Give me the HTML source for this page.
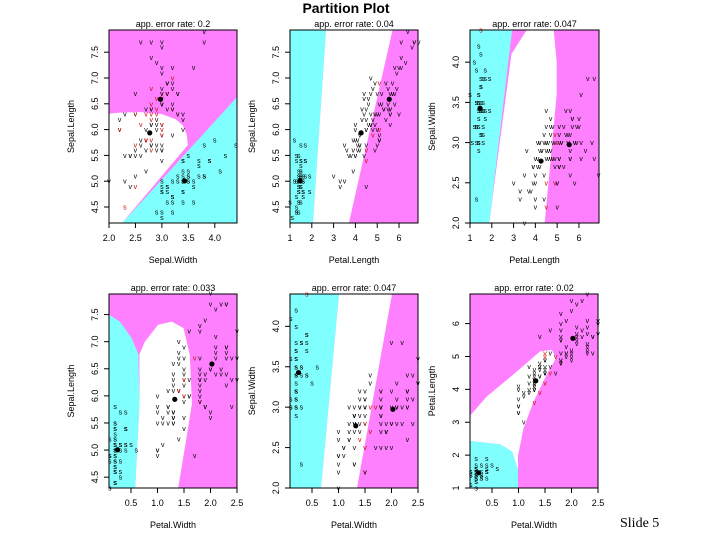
<!DOCTYPE html>
<html><head><meta charset="utf-8">
<style>
html,body{margin:0;padding:0;background:#fff;width:720px;height:540px;overflow:hidden}
svg{display:block;font-family:"Liberation Sans",sans-serif}
</style></head>
<body>
<svg id="chart" width="720" height="540" viewBox="0 0 720 540" xmlns="http://www.w3.org/2000/svg">
<text x="346" y="13" font-size="14" font-weight="bold" text-anchor="middle">Partition Plot</text>
<text x="620" y="527" font-size="14" font-family="Liberation Serif, serif">Slide 5</text>
</svg>
<script>
// iris data
const species = [].concat(Array(50).fill('s'), Array(50).fill('c'), Array(50).fill('g'));
const sepalLength = [5.1,4.9,4.7,4.6,5.0,5.4,4.6,5.0,4.4,4.9,5.4,4.8,4.8,4.3,5.8,5.7,5.4,5.1,5.7,5.1,5.4,5.1,4.6,5.1,4.8,5.0,5.0,5.2,5.2,4.7,4.8,5.4,5.2,5.5,4.9,5.0,5.5,4.9,4.4,5.1,5.0,4.5,4.4,5.0,5.1,4.8,5.1,4.6,5.3,5.0,
7.0,6.4,6.9,5.5,6.5,5.7,6.3,4.9,6.6,5.2,5.0,5.9,6.0,6.1,5.6,6.7,5.6,5.8,6.2,5.6,5.9,6.1,6.3,6.1,6.4,6.6,6.8,6.7,6.0,5.7,5.5,5.5,5.8,6.0,5.4,6.0,6.7,6.3,5.6,5.5,5.5,6.1,5.8,5.0,5.6,5.7,5.7,6.2,5.1,5.7,
6.3,5.8,7.1,6.3,6.5,7.6,4.9,7.3,6.7,7.2,6.5,6.4,6.8,5.7,5.8,6.4,6.5,7.7,7.7,6.0,6.9,5.6,7.7,6.3,6.7,7.2,6.2,6.1,6.4,7.2,7.4,7.9,6.4,6.3,6.1,7.7,6.3,6.4,6.0,6.9,6.7,6.9,5.8,6.8,6.7,6.7,6.3,6.5,6.2,5.9];
const sepalWidth = [3.5,3.0,3.2,3.1,3.6,3.9,3.4,3.4,2.9,3.1,3.7,3.4,3.0,3.0,4.0,4.4,3.9,3.5,3.8,3.8,3.4,3.7,3.6,3.3,3.4,3.0,3.4,3.5,3.4,3.2,3.1,3.4,4.1,4.2,3.1,3.2,3.5,3.6,3.0,3.4,3.5,2.3,3.2,3.5,3.8,3.0,3.8,3.2,3.7,3.3,
3.2,3.2,3.1,2.3,2.8,2.8,3.3,2.4,2.9,2.7,2.0,3.0,2.2,2.9,2.9,3.1,3.0,2.7,2.2,2.5,3.2,2.8,2.5,2.8,2.9,3.0,2.8,3.0,2.9,2.6,2.4,2.4,2.7,2.7,3.0,3.4,3.1,2.3,3.0,2.5,2.6,3.0,2.6,2.3,2.7,3.0,2.9,2.9,2.5,2.8,
3.3,2.7,3.0,2.9,3.0,3.0,2.5,2.9,2.5,3.6,3.2,2.7,3.0,2.5,2.8,3.2,3.0,3.8,2.6,2.2,3.2,2.8,2.8,2.7,3.3,3.2,2.8,3.0,2.8,3.0,2.8,3.8,2.8,2.8,2.6,3.0,3.4,3.1,3.0,3.1,3.1,3.1,2.7,3.2,3.3,3.0,2.5,3.0,3.4,3.0];
const petalLength = [1.4,1.4,1.3,1.5,1.4,1.7,1.4,1.5,1.4,1.5,1.5,1.6,1.4,1.1,1.2,1.5,1.3,1.4,1.7,1.5,1.7,1.5,1.0,1.7,1.9,1.6,1.6,1.5,1.4,1.6,1.6,1.5,1.5,1.4,1.5,1.2,1.3,1.4,1.3,1.5,1.3,1.3,1.3,1.6,1.9,1.4,1.6,1.4,1.5,1.4,
4.7,4.5,4.9,4.0,4.6,4.5,4.7,3.3,4.6,3.9,3.5,4.2,4.0,4.7,3.6,4.4,4.5,4.1,4.5,3.9,4.8,4.0,4.9,4.7,4.3,4.4,4.8,5.0,4.5,3.5,3.8,3.7,3.9,5.1,4.5,4.5,4.7,4.4,4.1,4.0,4.4,4.6,4.0,3.3,4.2,4.2,4.2,4.3,3.0,4.1,
6.0,5.1,5.9,5.6,5.8,6.6,4.5,6.3,5.8,6.1,5.1,5.3,5.5,5.0,5.1,5.3,5.5,6.7,6.9,5.0,5.7,4.9,6.7,4.9,5.7,6.0,4.8,4.9,5.6,5.8,6.1,6.4,5.6,5.1,5.6,6.1,5.6,5.5,4.8,5.4,5.6,5.1,5.1,5.9,5.7,5.2,5.0,5.2,5.4,5.1];
const petalWidth = [0.2,0.2,0.2,0.2,0.2,0.4,0.3,0.2,0.2,0.1,0.2,0.2,0.1,0.1,0.2,0.4,0.4,0.3,0.3,0.3,0.2,0.4,0.2,0.5,0.2,0.2,0.4,0.2,0.2,0.2,0.2,0.4,0.1,0.2,0.2,0.2,0.2,0.1,0.2,0.2,0.3,0.3,0.2,0.6,0.4,0.3,0.2,0.2,0.2,0.2,
1.4,1.5,1.5,1.3,1.5,1.3,1.6,1.0,1.3,1.4,1.0,1.5,1.0,1.4,1.3,1.4,1.5,1.0,1.5,1.1,1.8,1.3,1.5,1.2,1.3,1.4,1.4,1.7,1.5,1.0,1.1,1.0,1.2,1.6,1.5,1.6,1.5,1.3,1.3,1.3,1.2,1.4,1.2,1.0,1.3,1.2,1.3,1.3,1.1,1.3,
2.5,1.9,2.1,1.8,2.2,2.1,1.7,1.8,1.8,2.5,2.0,1.9,2.1,2.0,2.4,2.3,1.8,2.2,2.3,1.5,2.3,2.0,2.0,1.8,2.1,1.8,1.8,1.8,2.1,1.6,1.9,2.0,2.2,1.5,1.4,2.3,2.4,1.8,1.8,2.1,2.4,2.3,1.9,2.3,2.5,2.3,1.9,2.0,2.3,1.8];
const vars = {SL: sepalLength, SW: sepalWidth, PL: petalLength, PW: petalWidth};
const varNames = {SL: 'Sepal.Length', SW: 'Sepal.Width', PL: 'Petal.Length', PW: 'Petal.Width'};
const errorRates = ['0.2','0.04','0.047','0.033','0.047','0.02'];

// panel layout: x var, y var
const panelVars = [['SW','SL'],['PL','SL'],['PL','SW'],['PW','SL'],['PW','SW'],['PW','PL']];
const xTicks = [[2.0,2.5,3.0,3.5,4.0],[1,2,3,4,5,6],[1,2,3,4,5,6],[0.5,1.0,1.5,2.0,2.5],[0.5,1.0,1.5,2.0,2.5],[0.5,1.0,1.5,2.0,2.5]];
const yTicks = [[4.5,5.0,5.5,6.0,6.5,7.0,7.5],[4.5,5.0,5.5,6.0,6.5,7.0,7.5],[2.0,2.5,3.0,3.5,4.0],[4.5,5.0,5.5,6.0,6.5,7.0,7.5],[2.0,2.5,3.0,3.5,4.0],[1,2,3,4,5,6]];
const xRanges = [[2.0,4.42],[1,6.87],[1,6.92],[0.085,2.5],[0.085,2.5],[0.085,2.5]];
const yRanges = [[4.19,7.93],[4.19,7.93],[2.0,4.4],[4.3,7.88],[2.0,4.4],[1,6.9]];
const boxes = [[109,30,128,193],[290,30,128,193],[470,30,129,193],[109,294,128,194],[290,294,128,194],[470,294,128,194]];

// decision regions (data coords), background = virginica (pink)
const cyanRegions = [
 [[2.25,4.19],[4.42,6.63],[4.42,4.19]],
 [[1,4.19],[2.05,4.19],[2.65,7.93],[1,7.93]],
 [[1,2],[1.88,2],[2.93,4.4],[1,4.4]],
 [[0.085,4.3],[0.085,7.5],[0.29,7.37],[0.51,7.07],[0.64,6.77],[0.66,5.85],[0.58,4.3]],
 [[0.085,2],[0.67,2],[1.01,4.4],[0.085,4.4]],
 [[0.085,1],[0.085,2.43],[0.65,2.33],[0.88,2.11],[0.99,1.56],[0.99,1]]
];
const whiteRegions = [
 [[2.0,4.19],[2.25,4.19],[3.49,5.70],[3.47,5.9],[3.4,6.08],[3.26,6.2],[3.0,6.3],[2.6,6.34],[2.2,6.33],[2.0,6.31]],
 [[2.05,4.19],[3.7,4.19],[5.7,7.93],[2.65,7.93]],
 [[1.88,2],[2.9,4.1],[3.6,4.4],[4.84,4.4],[4.98,4.0],[4.98,3.6],[4.43,2]],
 [[0.58,4.3],[1.39,4.3],[1.55,5.24],[1.65,5.85],[1.61,6.76],[1.49,7.25],[1.27,7.37],[1.01,7.31],[0.76,7.0],[0.66,6.77],[0.66,5.85]],
 [[0.67,2],[1.35,2],[2.01,4.4],[1.01,4.4]],
 [[0.085,2.43],[0.085,3.2],[0.4,3.78],[0.9,4.45],[1.41,5.16],[1.63,5.2],[1.71,4.95],[1.53,4.44],[1.28,3.61],[1.09,2.79],[0.99,1.97],[0.99,1.56],[0.88,2.11],[0.65,2.33]]
];

const NS = 'http://www.w3.org/2000/svg';
const svg = document.getElementById('chart');
function mk(tag, attrs, parent){ const e=document.createElementNS(NS,tag); for(const k in attrs) e.setAttribute(k,attrs[k]); (parent||svg).appendChild(e); return e; }
function inPoly(pt, poly){ let c=false; for(let i=0,j=poly.length-1;i<poly.length;j=i++){ const [xi,yi]=poly[i],[xj,yj]=poly[j]; if(((yi>pt[1])!==(yj>pt[1])) && (pt[0] < (xj-xi)*(pt[1]-yi)/(yj-yi)+xi)) c=!c; } return c; }

panelVars.forEach((pv, p) => {
  const [bx,by,bw,bh] = boxes[p];
  const xr = xRanges[p], yr = yRanges[p];
  const sx = v => bx + (v - xr[0]) / (xr[1]-xr[0]) * bw;
  const sy = v => by + bh - (v - yr[0]) / (yr[1]-yr[0]) * bh;
  const g = mk('g', {});
  
  
  const clipId = 'clip' + p;
  const cp = mk('clipPath', {id: clipId}, g); mk('rect', {x:bx,y:by,width:bw,height:bh}, cp);
  const bg = mk('rect', {x:bx,y:by,width:bw,height:bh,fill:'#ff80ff'}, g);
  
  
  const toPts = poly => poly.map(q => sx(q[0]).toFixed(1)+','+sy(q[1]).toFixed(1)).join(' ');
  const wp = mk('polygon', {points: toPts(whiteRegions[p]), fill:'#ffffff', 'clip-path':'url(#'+clipId+')'}, g);
  
  
  const cpoly = mk('polygon', {points: toPts(cyanRegions[p]), fill:'#80ffff', 'clip-path':'url(#'+clipId+')'}, g);
  
  
  const xs = vars[pv[0]], ys = vars[pv[1]];
  for (let i=0;i<xs.length;i++){
    const pt=[xs[i],ys[i]];
    const pred = inPoly(pt, cyanRegions[p]) ? 's' : (inPoly(pt, whiteRegions[p]) ? 'c' : 'g');
    const t = mk('text', {x:sx(xs[i]).toFixed(1), y:(sy(ys[i])+2.5).toFixed(1), 'font-size':7, 'text-anchor':'middle', fill: pred===species[i] ? '#000' : '#d00000'}, g);
    
    
    t.textContent = species[i]==='s' ? 's' : 'v';
  }
  ['s','c','g'].forEach(sp => {
    let mx=0,my=0,n=0; for(let i=0;i<xs.length;i++) if(species[i]===sp){mx+=xs[i];my+=ys[i];n++;}
    const c = mk('circle', {cx:sx(mx/n), cy:sy(my/n), r:2.6, fill:'#000'}, g);
    
    
  });
  const frame = mk('rect', {x:bx,y:by,width:bw,height:bh,fill:'none',stroke:'#000','stroke-width':1}, g);
  
  
  const tt = mk('text', {x:bx+bw/2, y:by-3, 'font-size':9, 'text-anchor':'middle'}, g);
  
  
  tt.textContent = 'app. error rate: ' + errorRates[p];
  xTicks[p].forEach(v => {
    const x = sx(v);
    mk('line', {x1:x,x2:x,y1:by+bh,y2:by+bh+5,stroke:'#000'}, g);
    const lt = mk('text', {x:x, y:by+bh+18, 'font-size':9, 'text-anchor':'middle'}, g);
    
    
    lt.textContent = Number.isInteger(v) && p>0 && p<3 ? String(v) : v.toFixed(1);
  });
  yTicks[p].forEach(v => {
    const y = sy(v);
    mk('line', {x1:bx-5,x2:bx,y1:y,y2:y,stroke:'#000'}, g);
    const lt = mk('text', {x:bx-11, y:y, 'font-size':9, 'text-anchor':'middle', transform:'rotate(-90 '+(bx-11)+' '+y+')'}, g);
    
    
    lt.textContent = p===5 ? String(v) : v.toFixed(1);
  });
  const xl = mk('text', {x:bx+bw/2, y:by+bh+40, 'font-size':9, 'text-anchor':'middle'}, g);
  
  
  xl.textContent = varNames[pv[0]];
  const yx = bx-35, yy = by+bh/2;
  const yl = mk('text', {x:yx, y:yy, 'font-size':9, 'text-anchor':'middle', transform:'rotate(-90 '+yx+' '+yy+')'}, g);
  
  
  yl.textContent = varNames[pv[1]];
});
</script>
</body></html>
